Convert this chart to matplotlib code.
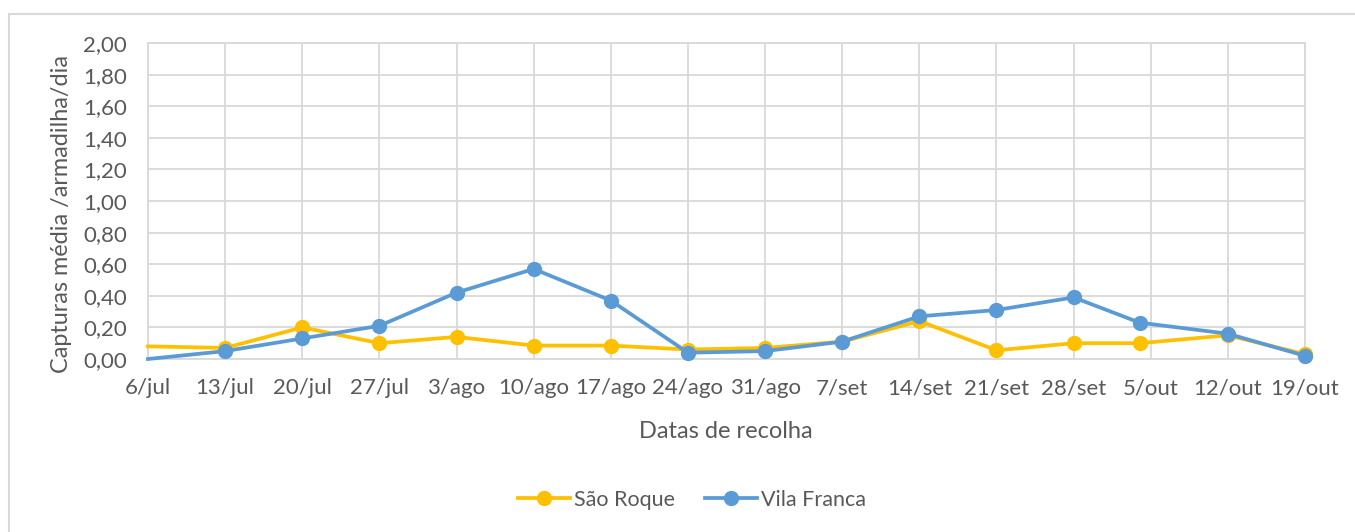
from datetime import datetime
import matplotlib
matplotlib.use("Agg")
import matplotlib.pyplot as plt
from matplotlib.patches import Rectangle

# weekly collection dates (one sample taken on 4/out instead of 5/out)
dates_str = ["2020-07-06", "2020-07-13", "2020-07-20", "2020-07-27", "2020-08-03",
             "2020-08-10", "2020-08-17", "2020-08-24", "2020-08-31", "2020-09-07",
             "2020-09-14", "2020-09-21", "2020-09-28", "2020-10-04", "2020-10-12",
             "2020-10-19"]
sao_roque = [0.08, 0.07, 0.20, 0.10, 0.14, 0.085, 0.085, 0.06, 0.07, 0.11,
             0.24, 0.055, 0.10, 0.10, 0.15, 0.03]
vila_franca = [0.00, 0.05, 0.13, 0.21, 0.42, 0.57, 0.37, 0.04, 0.05, 0.11,
               0.27, 0.31, 0.39, 0.23, 0.16, 0.02]

tick_dates_str = ["2020-07-06", "2020-07-13", "2020-07-20", "2020-07-27", "2020-08-03",
                  "2020-08-10", "2020-08-17", "2020-08-24", "2020-08-31", "2020-09-07",
                  "2020-09-14", "2020-09-21", "2020-09-28", "2020-10-05", "2020-10-12",
                  "2020-10-19"]
tick_labels = ["6/jul", "13/jul", "20/jul", "27/jul", "3/ago", "10/ago", "17/ago",
               "24/ago", "31/ago", "7/set", "14/set", "21/set", "28/set", "5/out",
               "12/out", "19/out"]
y_ticks = [0.0, 0.2, 0.4, 0.6, 0.8, 1.0, 1.2, 1.4, 1.6, 1.8, 2.0]

dates = [datetime.strptime(d, "%Y-%m-%d") for d in dates_str]
tick_dates = [datetime.strptime(d, "%Y-%m-%d") for d in tick_dates_str]

plt.rcParams['font.family'] = ['Lato', 'DejaVu Sans']
TXT = '#595959'
GRID = '#d9d9d9'
YELLOW = '#FFC000'
BLUE = '#5B9BD5'

fig = plt.figure(figsize=(13.55, 5.32), dpi=100)
fig.patches.append(Rectangle((9 / 1355, -0.1), 1.2, (532 - 14) / 532 + 0.1,
                             transform=fig.transFigure, fill=False,
                             edgecolor=GRID, linewidth=1.5))

ax = fig.add_axes([148 / 1355, 1 - 359 / 532, (1305 - 148) / 1355, (359 - 43) / 532])

marks = list(range(1, len(dates)))
ax.plot(dates, sao_roque, color=YELLOW, linewidth=2.7, marker='o', markersize=10,
        markevery=marks, label='São Roque', zorder=3, clip_on=False)
ax.plot(dates, vila_franca, color=BLUE, linewidth=2.7, marker='o', markersize=10,
        markevery=marks, label='Vila Franca', zorder=4, clip_on=False)

ax.set_xlim(tick_dates[0], tick_dates[-1])
ax.set_ylim(0, 2.0)
ax.set_xticks(tick_dates)
ax.set_xticklabels(tick_labels)
ax.set_yticks(y_ticks)
ax.set_yticklabels([f"{v:.2f}".replace('.', ',') for v in y_ticks])

ax.grid(True, color=GRID, linewidth=1.3)
ax.set_axisbelow(True)
for s in ax.spines.values():
    s.set_color(GRID)
    s.set_linewidth(1.3)
ax.tick_params(length=0, labelsize=16, labelcolor=TXT)
ax.tick_params(axis='x', pad=14)
ax.tick_params(axis='y', pad=15)

fig.text(62 / 1355, 1 - 214 / 532, 'Capturas média /armadilha/dia', rotation=90,
         ha='center', va='center', fontsize=16.8, color=TXT)
fig.text(726 / 1355, 1 - 431 / 532, 'Datas de recolha', ha='center', va='center',
         fontsize=17, color=TXT)

fig.legend(loc='center', bbox_to_anchor=(692 / 1355, 1 - 500 / 532), ncol=2,
           frameon=False, fontsize=15.5, labelcolor=TXT, handlelength=2.4,
           columnspacing=1.4, handletextpad=0.2)

fig.savefig('out.png', dpi=100)
